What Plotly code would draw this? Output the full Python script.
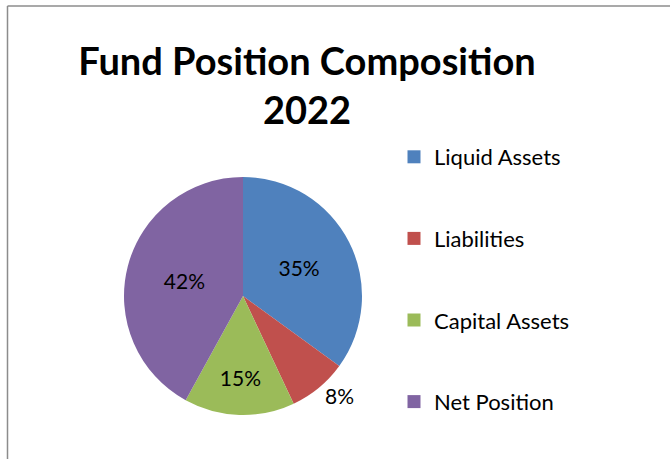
import plotly.graph_objects as go

labels = ["Liquid Assets", "Liabilities", "Capital Assets", "Net Position"]
values = [35, 8, 15, 42]
colors = ["#4F81BD", "#C0504D", "#9BBB59", "#8064A2"]
text_pos = ["inside", "outside", "inside", "inside"]

W, H = 670, 459
FONT = "Lato"

fig = go.Figure()
fig.add_trace(go.Pie(
    labels=labels, values=values, sort=False, direction="clockwise", rotation=0,
    marker=dict(colors=colors, line=dict(width=0)),
    textinfo="percent", texttemplate="%{percent:.0%}",
    textposition=text_pos, insidetextorientation="horizontal",
    textfont=dict(family=FONT, size=21, color="#000000"),
    showlegend=False, hoverinfo="label+percent",
    domain=dict(x=[124 / W, 362 / W], y=[44 / H, 282 / H]),
))

for lab, col in zip(labels, colors):
    fig.add_trace(go.Scatter(
        x=[None], y=[None], mode="markers", name=lab, legendgroup=lab,
        marker=dict(symbol="square", size=13, color=col),
        showlegend=True,
    ))

border = dict(color="#8C8C8C", width=1.5)
fig.update_layout(
    width=W, height=H,
    margin=dict(l=0, r=0, t=0, b=0),
    paper_bgcolor="white", plot_bgcolor="white",
    xaxis=dict(visible=False), yaxis=dict(visible=False),
    title=dict(
        text="<b>Fund Position Composition<br>2022</b>",
        x=307 / W, xanchor="center", y=1 - 75 / H, yanchor="top",
        font=dict(family=FONT, size=38, color="#000000"),
    ),
    legend=dict(
        x=394 / W, xanchor="left", y=1 - 136 / H, yanchor="top",
        font=dict(family=FONT, size=22, color="#000000"),
        tracegroupgap=50, bgcolor="rgba(0,0,0,0)",
    ),
    shapes=[
        dict(type="line", xref="paper", yref="paper",
             x0=7.5 / W, x1=1.0, y0=1 - 6 / H, y1=1 - 6 / H, line=border, layer="above"),
        dict(type="line", xref="paper", yref="paper",
             x0=7.5 / W, x1=7.5 / W, y0=0.0, y1=1 - 6 / H, line=border, layer="above"),
    ],
)

fig.write_html("out.html", config={"displayModeBar": False},
               post_script="document.body.style.margin='0';")
